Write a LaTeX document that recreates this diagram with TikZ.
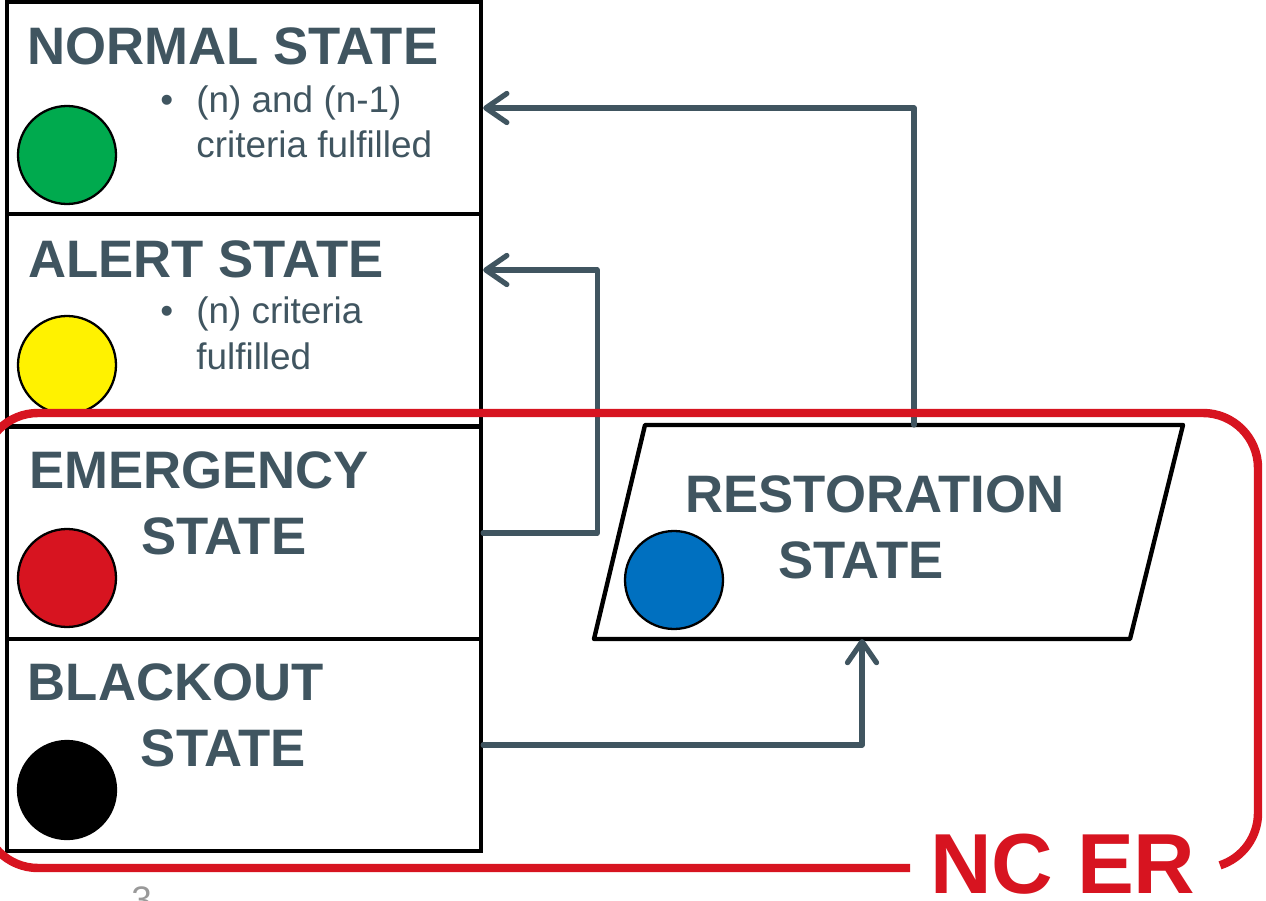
\documentclass[tikz,border=0pt]{standalone}
\usepackage{fontspec}
\setmainfont{Liberation Sans}
\usetikzlibrary{arrows.meta}
\definecolor{slate}{RGB}{64,85,96}
\definecolor{ncred}{RGB}{215,20,32}
\definecolor{okgreen}{RGB}{0,170,78}
\definecolor{rsblue}{RGB}{0,112,192}
\begin{document}
\begin{tikzpicture}[>={Straight Barb[round,length=0.42cm,width=0.58cm]},
    sb/.style={draw, line width=2.5pt, minimum width=9.48cm, minimum height=4.24cm, inner sep=0pt},
    lamp/.style={circle, draw, line width=1.3pt, minimum size=1.96cm, inner sep=0pt},
    ttl/.style={anchor=base west, inner sep=0pt, align=left, text=slate,
                font=\fontsize{30}{37.5}\selectfont\bfseries},
    bl/.style={anchor=base west, inner sep=0pt, align=left, text=slate,
               font=\fontsize{21}{26}\selectfont},
    flow/.style={->, slate, line width=3pt, line cap=round, line join=round}
]
    \useasboundingbox (0,0) rectangle (25.32,18);

    % State column (x = 0.14 .. 9.62)
    \node[sb] (normal) at (4.88,15.84) {};
    \node[sb] (alert)  at (4.88,11.60) {};
    \node[sb] (emerg)  at (4.88,7.34) {};
    \node[sb] (black)  at (4.88,3.10) {};

    % Lamps
    \node[lamp, fill=okgreen] (gl) at (1.34,14.90) {};
    \node[lamp, fill=yellow]  (yl) at (1.34,10.70) {};
    \node[lamp, fill=ncred]   (rl) at (1.34,6.44) {};
    \node[lamp, fill=black]   (kl) at (1.34,2.20) {};

    % Titles (base = last line)
    \node[ttl] (tnormal) at (0.54,16.70) {NORMAL STATE};
    \node[ttl] (talert)  at (0.56,12.46) {ALERT STATE};
    \node[ttl] (temerg)  at (0.58,6.92) {EMERGENCY\\\hspace*{2.24cm}STATE};
    \node[ttl] (tblack)  at (0.55,2.68) {BLACKOUT\\\hspace*{2.26cm}STATE};

    % Criteria
    \node[bl] (cnormal) at (3.2,14.84)
        {\makebox[0.72cm][l]{\textbullet}(n) and (n-1)\\\hspace*{0.72cm}criteria fulfilled};
    \node[bl] (calert) at (3.2,10.62)
        {\makebox[0.72cm][l]{\textbullet}(n) criteria\\\hspace*{0.72cm}fulfilled};

    % Restoration (parallelogram)
    \coordinate (rbl) at (11.88,5.22);
    \coordinate (rbr) at (22.60,5.22);
    \coordinate (rtr) at (23.66,9.50);
    \coordinate (rtl) at (12.90,9.50);
    \coordinate (rtop) at (18.28,9.50);
    \coordinate (rbot) at (17.24,5.22);
    \draw[line width=2.5pt, line join=round] (rbl) -- (rbr) -- (rtr) -- (rtl) -- cycle;
    \node[lamp, fill=rsblue] (bll) at (13.48,6.40) {};
    \node[ttl, anchor=base, align=center] (trest) at (17.5,6.44)
        {RESTORATION\\STATE\hspace*{0.56cm}};

    % Transitions
    \draw[flow] (rtop) |- (normal.east);
    \draw[flow] (emerg.east) -- ++(2.28,0) |- ([yshift=1cm]alert.east);
    \draw[flow] (black.east) -| (rbot);

    % NC ER frame
    \draw[ncred, line width=4.8pt]
        (18.2,0.64) -- (0.76,0.64) arc[start angle=-90, end angle=-180, radius=1.1]
        -- (-0.34,8.64) arc[start angle=180, end angle=90, radius=1.1]
        -- (24.06,9.74) arc[start angle=90, end angle=0, radius=1.1]
        -- (25.16,1.74) arc[start angle=0, end angle=-72, radius=1.1];
    \node[anchor=base west, inner sep=0pt, text=ncred,
          font=\fontsize{48.5}{56}\selectfont\bfseries] (ncer) at (18.6,0.14) {NC ER};

    % slide number
    \node[anchor=base west, inner sep=0pt, text=gray!80, font=\fontsize{21}{25}\selectfont]
        (pgno) at (2.62,-0.24) {3};
\end{tikzpicture}
\end{document}
